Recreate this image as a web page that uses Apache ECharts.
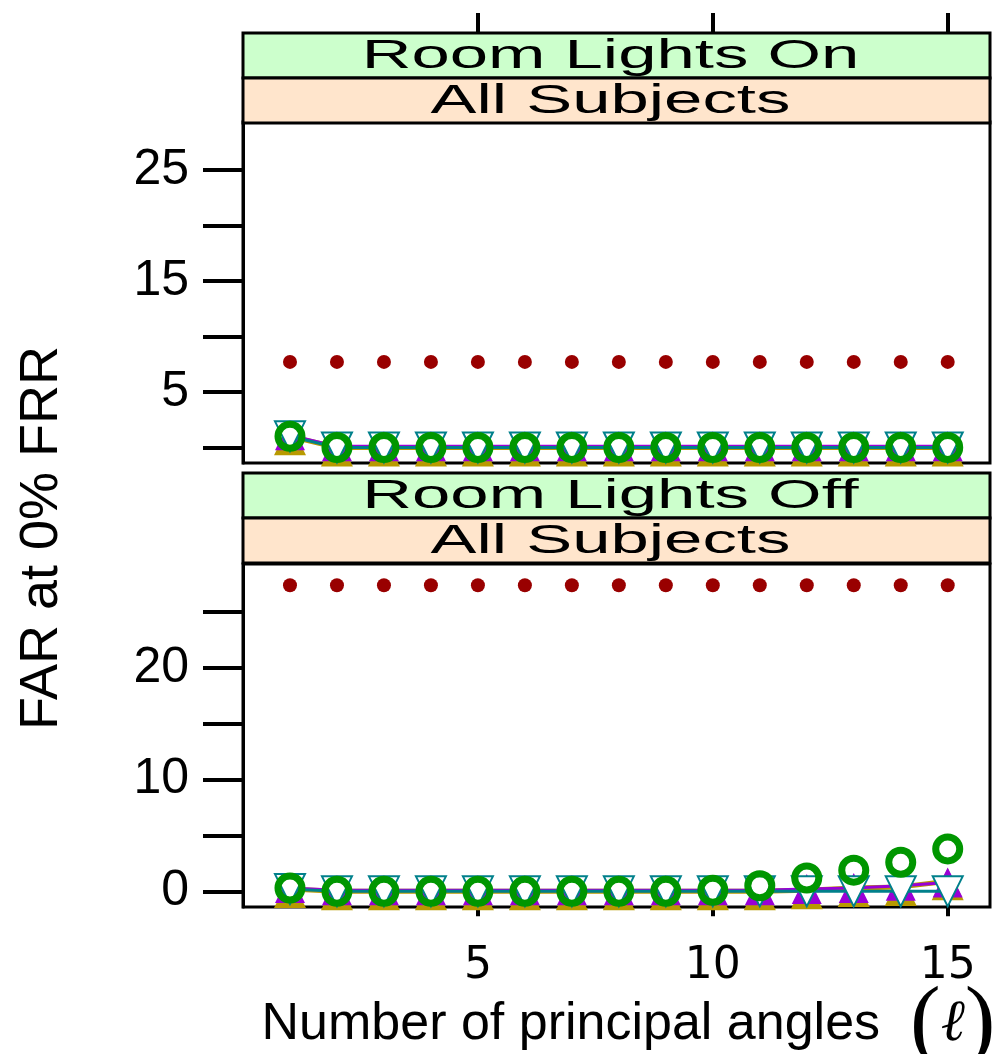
<!DOCTYPE html>
<html>
<head>
    <meta http-equiv="Content-Type" content="text/html; charset=utf-8"/>
    <script src="https://cdn.jsdelivr.net/npm/echarts@6/dist/echarts.min.js"></script>
    <style>
        html, body { margin: 0; padding: 0; background: #fff; }
    </style>
</head>
<body>

<div id="far" style="width: 999px; height: 1054px;"></div>

<script type="text/javascript">
    // number of principal angles
    var angles = [1, 2, 3, 4, 5, 6, 7, 8, 9, 10, 11, 12, 13, 14, 15];

    // Room Lights On, All Subjects
    var onRed    = [7.7, 7.7, 7.7, 7.7, 7.7, 7.7, 7.7, 7.7, 7.7, 7.7, 7.7, 7.7, 7.7, 7.7, 7.7];
    var onOlive  = [1.0, 0, 0, 0, 0, 0, 0, 0, 0, 0, 0, 0, 0, 0, 0];
    var onPurple = [1.1, 0.1, 0.1, 0.1, 0.1, 0.1, 0.1, 0.1, 0.1, 0.1, 0.1, 0.1, 0.1, 0.1, 0.1];
    var onTeal   = [1.0, 0, 0, 0, 0, 0, 0, 0, 0, 0, 0, 0, 0, 0, 0];
    var onGreen  = [1.0, 0, 0, 0, 0, 0, 0, 0, 0, 0, 0, 0, 0, 0, 0];

    // Room Lights Off, All Subjects
    var offRed    = [27.4, 27.4, 27.4, 27.4, 27.4, 27.4, 27.4, 27.4, 27.4, 27.4, 27.4, 27.4, 27.4, 27.4, 27.4];
    var offOlive  = [0.2, 0, 0, 0, 0, 0, 0, 0, 0, 0, 0, 0.1, 0.3, 0.4, 0.9];
    var offPurple = [0.3, 0.1, 0.1, 0.1, 0.1, 0.1, 0.1, 0.1, 0.1, 0.1, 0.1, 0.2, 0.3, 0.5, 0.8];
    var offTeal   = [0.2, 0, 0, 0, 0, 0, 0, 0, 0, 0, 0, 0, 0, 0, 0];
    var offGreen  = [0.3, 0, 0, 0, 0, 0, 0, 0, 0, 0.1, 0.5, 1.2, 1.9, 2.6, 3.8];

    // axis ticks / labels
    var xTicks = [5, 10, 15];
    var yTicks = [0, 5, 10, 15, 20, 25];
    var yLabelsOn = [5, 15, 25];
    var yLabelsOff = [0, 10, 20];

    var stripTop = ['Room Lights On', 'All Subjects'];
    var stripBottom = ['Room Lights Off', 'All Subjects'];

    function pairs(ys) {
        return angles.map(function (x, i) { return [x, ys[i]]; });
    }

    var chart = echarts.init(document.getElementById('far'));

    var gridLeft = 243, gridWidth = 747;
    var grids = [
        {left: gridLeft, top: 122, width: gridWidth, height: 341},
        {left: gridLeft, top: 564, width: gridWidth, height: 343}
    ];
    grids.forEach(function (g) {
        g.show = true;
        g.borderColor = '#000';
        g.borderWidth = 3;
        g.backgroundColor = '#fff';
        g.outerBoundsMode = 'none';
        g.containLabel = false;
    });

    function yAxisFor(idx, labels) {
        return {
            type: 'value',
            gridIndex: idx,
            min: -1.4,
            max: 29.3,
            splitLine: {show: false},
            axisLine: {show: true, lineStyle: {color: '#000', width: 3}},
            axisTick: {
                show: true, length: 40, inside: false,
                customValues: yTicks,
                lineStyle: {color: '#000', width: 4}
            },
            axisLabel: {
                customValues: labels,
                margin: 54,
                color: '#000',
                fontFamily: 'Liberation Sans',
                fontSize: 50
            }
        };
    }

    // strips drawn on top of the panels
    var graphics = [];
    function addStrip(top, texts) {
        var cols = ['#ccffcc', '#ffe5cc'];
        texts.forEach(function (t, i) {
            graphics.push({
                type: 'rect',
                shape: {x: gridLeft, y: top + i * 45, width: gridWidth, height: 45},
                style: {fill: cols[i], stroke: '#000', lineWidth: 3},
                z: 10
            });
            graphics.push({
                type: 'text',
                x: gridLeft + gridWidth / 2 - 6,
                y: top + i * 45 + 24,
                scaleX: 1.68,
                style: {
                    text: t, fill: '#000',
                    font: '41px "Liberation Sans"',
                    align: 'center', verticalAlign: 'middle'
                },
                z: 11
            });
        });
    }
    addStrip(33, stripTop);
    addStrip(473, stripBottom);

    graphics.push({
        type: 'text',
        x: 42, y: 538,
        rotation: Math.PI / 2,
        style: {
            text: 'FAR at 0% FRR', fill: '#000',
            font: '54px "Liberation Sans"',
            align: 'center', verticalAlign: 'middle'
        }
    });

    function makeSeries(idx, red, olive, purple, teal, green) {
        return [
            {
                type: 'scatter', xAxisIndex: idx * 2, yAxisIndex: idx,
                data: pairs(red), symbol: 'circle', symbolSize: 14,
                itemStyle: {color: '#990000', opacity: 1}, z: 3
            },
            {
                type: 'line', xAxisIndex: idx * 2, yAxisIndex: idx,
                data: pairs(olive), symbol: 'triangle', symbolSize: 32, symbolOffset: [0, 3],
                lineStyle: {color: '#b89a00', width: 5}, showAllSymbol: true,
                itemStyle: {color: '#b89a00'}, z: 4
            },
            {
                type: 'line', xAxisIndex: idx * 2, yAxisIndex: idx,
                data: pairs(purple), symbol: 'triangle', symbolSize: 30,
                lineStyle: {color: '#9a00d6', width: 3}, showAllSymbol: true,
                itemStyle: {color: '#9a00d6'}, z: 5
            },
            {
                type: 'line', xAxisIndex: idx * 2, yAxisIndex: idx,
                data: pairs(teal), symbol: 'emptyTriangle', symbolSize: 30, symbolRotate: 180,
                lineStyle: {color: '#00808b', width: 3}, showAllSymbol: true,
                itemStyle: {color: '#00808b', borderWidth: 7}, z: 6
            },
            {
                type: 'scatter', xAxisIndex: idx * 2, yAxisIndex: idx,
                data: pairs(green), symbol: 'circle', symbolSize: 24,
                itemStyle: {color: 'rgba(255,255,255,0)', borderColor: '#009600', borderWidth: 7, opacity: 1}, z: 7
            }
        ];
    }

    var hiddenX = function (idx) {
        return {
            type: 'value', gridIndex: idx, min: 0, max: 15.9,
            position: 'bottom',
            axisLine: {show: false}, axisTick: {show: false},
            axisLabel: {show: false}, splitLine: {show: false}
        };
    };

    var option = {
        animation: false,
        backgroundColor: '#fff',
        grid: grids,
        xAxis: [
            hiddenX(0),
            {
                // ticks above the top strips
                type: 'value', gridIndex: 0, min: 0, max: 15.9,
                position: 'top', offset: 89,
                axisLine: {show: false},
                axisTick: {show: true, length: 20, customValues: xTicks, lineStyle: {color: '#000', width: 4}},
                axisLabel: {show: false}, splitLine: {show: false}
            },
            {
                type: 'value', gridIndex: 1, min: 0, max: 15.9,
                position: 'bottom',
                axisLine: {show: false},
                axisTick: {show: true, length: 25, customValues: xTicks, lineStyle: {color: '#000', width: 4}},
                axisLabel: {
                    customValues: xTicks, margin: 38, color: '#000',
                    fontFamily: 'DejaVu Sans', fontSize: 44
                },
                splitLine: {show: false},
                name: '{t|Number of principal angles}{pl|(}{l|ℓ}{p|)}',
                nameLocation: 'middle',
                nameMoveOverlap: false,
                nameGap: 72,
                nameTextStyle: {
                    padding: [0, 0, 0, 24],
                    rich: {
                        t: {fontFamily: 'Liberation Sans', fontSize: 52, color: '#000', verticalAlign: 'middle'},
                        pl: {fontFamily: 'Liberation Serif', fontSize: 92, color: '#000', verticalAlign: 'middle', padding: [0, 0, 0, 30]},
                        p: {fontFamily: 'Liberation Serif', fontSize: 92, color: '#000', verticalAlign: 'middle'},
                        l: {fontFamily: 'DejaVu Serif', fontStyle: 'italic', fontSize: 58, color: '#000', verticalAlign: 'middle'}
                    }
                }
            },
            hiddenX(1)
        ],
        yAxis: [yAxisFor(0, yLabelsOn), yAxisFor(1, yLabelsOff)],
        series: makeSeries(0, onRed, onOlive, onPurple, onTeal, onGreen)
            .concat(makeSeries(1, offRed, offOlive, offPurple, offTeal, offGreen)),
        graphic: graphics
    };

    chart.setOption(option);
</script>

</body>
</html>
